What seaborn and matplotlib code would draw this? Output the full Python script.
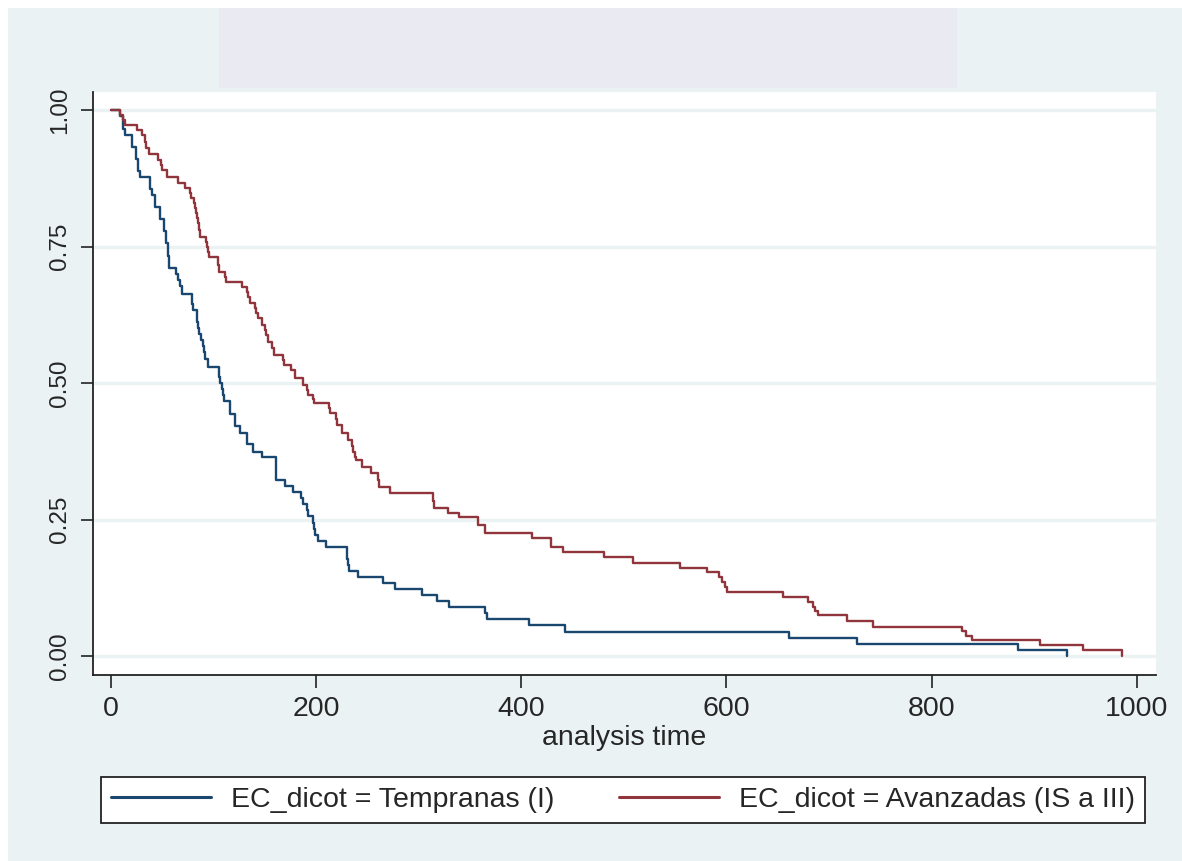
import matplotlib
matplotlib.use("Agg")
import matplotlib.pyplot as plt
from matplotlib.patches import Rectangle
import pandas as pd
import seaborn as sns

# Kaplan-Meier steps: (time, survival after the step)
blue_t = [0, 9, 12, 14, 21, 24, 26, 28, 38, 40, 43, 48, 52, 54, 56, 57, 63, 65, 67, 69,
          79, 80, 84, 85, 86, 88, 90, 91, 92, 95, 105, 106, 108, 109, 110, 116, 121, 126,
          133, 138, 147, 161, 170, 177, 185, 187, 191, 192, 197, 198, 199, 202, 210, 230,
          231, 232, 241, 265, 277, 303, 318, 330, 365, 367, 408, 443, 661, 727, 884, 932]
blue_s = [1.0, 0.989, 0.966, 0.955, 0.933, 0.911, 0.889, 0.877, 0.856, 0.845, 0.822, 0.800,
          0.778, 0.756, 0.733, 0.711, 0.700, 0.689, 0.678, 0.663, 0.644, 0.633, 0.611, 0.600,
          0.589, 0.578, 0.567, 0.556, 0.544, 0.530, 0.511, 0.500, 0.489, 0.478, 0.467, 0.444,
          0.422, 0.408, 0.389, 0.374, 0.364, 0.322, 0.311, 0.300, 0.289, 0.278, 0.267, 0.256,
          0.244, 0.233, 0.222, 0.211, 0.200, 0.178, 0.167, 0.156, 0.144, 0.133, 0.122, 0.111,
          0.100, 0.089, 0.078, 0.067, 0.056, 0.044, 0.033, 0.022, 0.011, 0.0]

red_t = [0, 9, 12, 14, 25, 30, 33, 34, 37, 46, 49, 50, 55, 65, 72, 77, 78, 81, 82, 83, 84,
         85, 86, 87, 93, 94, 95, 96, 104, 105, 111, 112, 128, 133, 134, 136, 140, 141, 143,
         147, 150, 151, 153, 157, 159, 168, 169, 176, 179, 187, 191, 192, 197, 198, 213, 214,
         219, 220, 225, 231, 235, 236, 238, 239, 245, 254, 260, 261, 272, 314, 315, 329, 339,
         358, 365, 410, 429, 441, 481, 509, 555, 581, 593, 596, 599, 601, 655, 680, 684, 686,
         689, 718, 743, 830, 834, 839, 906, 948, 986]
red_s = [1.0, 0.990, 0.982, 0.973, 0.963, 0.954, 0.942, 0.930, 0.919, 0.908, 0.899, 0.890,
         0.877, 0.866, 0.857, 0.848, 0.839, 0.830, 0.820, 0.811, 0.802, 0.793, 0.780, 0.767,
         0.758, 0.749, 0.740, 0.731, 0.717, 0.703, 0.694, 0.685, 0.676, 0.667, 0.658, 0.646,
         0.637, 0.628, 0.619, 0.606, 0.597, 0.588, 0.575, 0.564, 0.551, 0.542, 0.533, 0.524,
         0.509, 0.496, 0.487, 0.478, 0.470, 0.463, 0.454, 0.445, 0.434, 0.423, 0.408, 0.396,
         0.385, 0.374, 0.365, 0.359, 0.346, 0.335, 0.322, 0.310, 0.298, 0.284, 0.271, 0.262,
         0.255, 0.240, 0.225, 0.216, 0.200, 0.190, 0.181, 0.170, 0.161, 0.154, 0.145, 0.136,
         0.126, 0.117, 0.108, 0.099, 0.090, 0.083, 0.075, 0.064, 0.053, 0.046, 0.037, 0.029,
         0.020, 0.011, 0.0]

group_labels = ["EC_dicot = Tempranas (I)", "EC_dicot = Avanzadas (IS a III)"]
x_ticks = [0, 200, 400, 600, 800, 1000]
y_ticks = [0.0, 0.25, 0.50, 0.75, 1.00]

df = pd.concat([
    pd.DataFrame({"time": blue_t, "surv": blue_s, "grupo": group_labels[0]}),
    pd.DataFrame({"time": red_t, "surv": red_s, "grupo": group_labels[1]}),
])

sns.set_theme(style="white")
plt.rcParams["font.family"] = ["Liberation Sans", "DejaVu Sans"]

W, H = 1182, 861
fig = plt.figure(figsize=(W / 100, H / 100), dpi=100, facecolor="white")
bg = "#EAF2F3"
fig.patches.append(Rectangle((8 / W, 0), 1 - 8 / W, 1 - 8 / H, transform=fig.transFigure,
                             facecolor=bg, edgecolor="none", zorder=-10))
fig.patches.append(Rectangle((219 / W, 1 - 88 / H), (957 - 219) / W, 80 / H,
                             transform=fig.transFigure, facecolor="#EAEAF2",
                             edgecolor="none", zorder=-9))

ax = fig.add_axes([93 / W, 1 - 675 / H, (1156 - 93) / W, (675 - 92) / H])
ax.set_facecolor("white")

sns.lineplot(data=df, x="time", y="surv", hue="grupo", hue_order=group_labels,
             palette=["#1A476F", "#90353B"], drawstyle="steps-post", estimator=None,
             linewidth=1.7, ax=ax)

ax.set_xlim(-17.5, 1018.8)
ax.set_ylim(-0.0348, 1.033)
ax.set_xticks(x_ticks)
ax.set_yticks(y_ticks)
ax.set_yticklabels([f"{v:.2f}" for v in y_ticks], rotation=90, va="center", fontsize=17.5)
ax.set_xticklabels([str(v) for v in x_ticks], fontsize=20.5)
ax.grid(axis="y", color=bg, linewidth=2.4)
ax.set_axisbelow(True)
for s in ["top", "right"]:
    ax.spines[s].set_visible(False)
for s in ["left", "bottom"]:
    ax.spines[s].set_color("#222222")
    ax.spines[s].set_linewidth(1.3)
ax.tick_params(axis="both", direction="out", length=9, width=1.2, color="#222222",
               left=True, bottom=True)
ax.tick_params(axis="x", pad=6)
ax.tick_params(axis="y", pad=7)

ax.set_ylabel("")
ax.set_xlabel("analysis time", fontsize=20.5)
ax.xaxis.set_label_coords(0.5, -0.085)

handles, labels = ax.get_legend_handles_labels()
ax.get_legend().remove()
leg = fig.legend(handles, labels, loc="center", ncol=2, mode="expand",
                 bbox_to_anchor=(101 / W, 1 - 828 / H, (1145 - 101) / W, 56 / H),
                 fontsize=20.5, frameon=True, fancybox=False, shadow=False,
                 handlelength=3.5, handletextpad=0.7, borderpad=0.35, borderaxespad=0)
leg.get_frame().set_edgecolor("#222222")
leg.get_frame().set_linewidth(1.3)
leg.get_frame().set_facecolor("white")
leg.get_frame().set_alpha(1)
for ln in leg.get_lines():
    ln.set_linewidth(2.2)

fig.savefig("out.png", dpi=100, facecolor=fig.get_facecolor())
